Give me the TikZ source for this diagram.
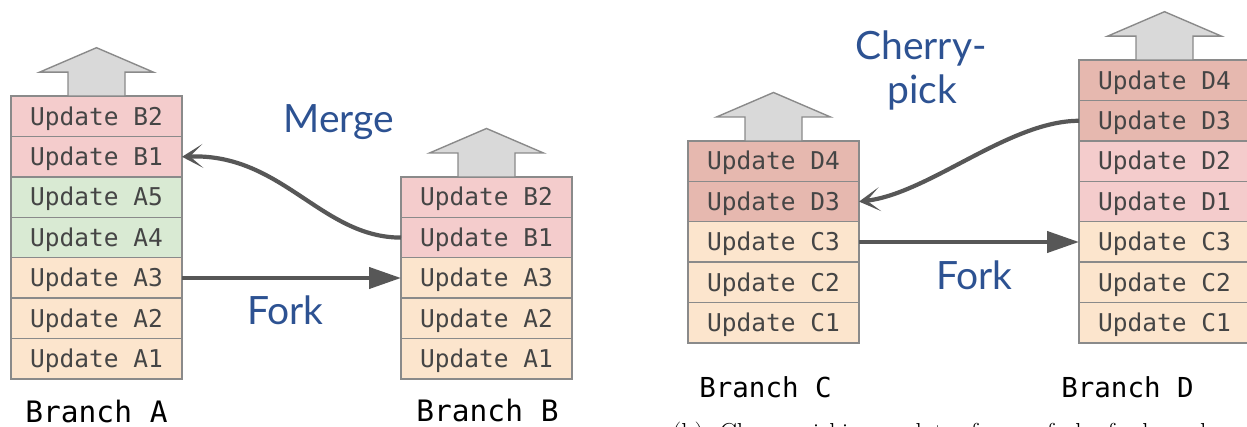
\documentclass[tikz,border=0pt]{standalone}
\usepackage{fontspec}
\setmonofont{DejaVu Sans Mono}
\newfontfamily\latofont{Lato}
\usetikzlibrary{arrows.meta,calc}

\definecolor{roworange}{HTML}{FCE5CD}
\definecolor{rowgreen}{HTML}{D9EAD3}
\definecolor{rowpink}{HTML}{F4CCCC}
\definecolor{rowred}{HTML}{E6B8AF}
\definecolor{rowborder}{HTML}{8A8A8A}
\definecolor{rowtext}{HTML}{454545}
\definecolor{flowgrey}{HTML}{575757}
\definecolor{headfill}{HTML}{D9D9D9}
\definecolor{labelblue}{HTML}{2D5292}

\tikzset{
  commit/.style={draw=rowborder, line width=1.4pt, rectangle, inner sep=0pt, outer sep=0pt,
    minimum width=171pt, minimum height=40.4pt, text height=17.9pt, text depth=0.5pt,
    text=rowtext, font=\ttfamily\fontsize{24.5}{28}\selectfont},
  branchname/.style={anchor=base, inner sep=0pt, text=black, font=\ttfamily\fontsize{#1}{#1}\selectfont},
  oplabel/.style={anchor=base, inner sep=0pt, text=labelblue, font=\latofont\fontsize{39}{44}\selectfont},
  flow/.style={draw=flowgrey, line width=4.2pt},
  forkhead/.style={-{Triangle[length=32pt,width=21pt]}, flowgrey},
  pickhead/.style={-{Stealth[length=21pt,width=24pt,inset=13pt]}, flowgrey},
  headarrow/.style={draw=rowborder, fill=headfill, line width=1.4pt, line join=miter}
}

% up-pointing block arrow sitting on the top commit of a branch
\newcommand\tiparrow[1]{%
  \draw[headarrow, shift={(#1.north)}] (-28.5,0) -- (-28.5,-24) -- (-57,-24) -- (0,-48.5)
    -- (57,-24) -- (28.5,-24) -- (28.5,0) -- cycle;}

\begin{document}
\begin{tikzpicture}[x=1pt,y=-1pt]
\useasboundingbox (0,0) rectangle (1247,427);
\clip (0,0) rectangle (1247,427);

% ---------- Branch A ----------
\node[commit, fill=rowpink]   (aB2) at (96.5,116.4) {Update B2};
\node[commit, fill=rowpink]   (aB1) at (96.5,156.8) {Update B1};
\node[commit, fill=rowgreen]  (aA5) at (96.5,197.2) {Update A5};
\node[commit, fill=rowgreen]  (aA4) at (96.5,237.6) {Update A4};
\node[commit, fill=roworange] (aA3) at (96.5,278.0) {Update A3};
\node[commit, fill=roworange] (aA2) at (96.5,318.4) {Update A2};
\node[commit, fill=roworange] (aA1) at (96.5,358.8) {Update A1};
\tiparrow{aB2}
\node[branchname=29.5] (brA) at (96.5,422.5) {Branch A};

% ---------- Branch B ----------
\node[commit, fill=rowpink]   (bB2) at (486.5,197.2) {Update B2};
\node[commit, fill=rowpink]   (bB1) at (486.5,237.6) {Update B1};
\node[commit, fill=roworange] (bA3) at (486.5,278.0) {Update A3};
\node[commit, fill=roworange] (bA2) at (486.5,318.4) {Update A2};
\node[commit, fill=roworange] (bA1) at (486.5,358.8) {Update A1};
\tiparrow{bB2}
\node[branchname=29.5] (brB) at (487.5,421.5) {Branch B};

% fork and merge between A and B
\draw[flow, forkhead] (aA3.east) -- (bA3.west);
\draw[flow, pickhead] (bB1.west) .. controls +(-80,0) and +(100,-4) .. (aB1.east);
\node[oplabel] (merge) at (339,133) {Merge};
\node[oplabel] (forkAB) at (285.5,325) {Fork};

% ---------- Branch C ----------
\node[commit, fill=rowred]    (cD4) at (773.5,161.2) {Update D4};
\node[commit, fill=rowred]    (cD3) at (773.5,201.6) {Update D3};
\node[commit, fill=roworange] (cC3) at (773.5,242.0) {Update C3};
\node[commit, fill=roworange] (cC2) at (773.5,282.4) {Update C2};
\node[commit, fill=roworange] (cC1) at (773.5,322.8) {Update C1};
\tiparrow{cD4}
\node[branchname=27.5] (brC) at (765.5,397) {Branch C};

% ---------- Branch D ----------
\node[commit, fill=rowred]    (dD4) at (1164.5,80.4)  {Update D4};
\node[commit, fill=rowred]    (dD3) at (1164.5,120.8) {Update D3};
\node[commit, fill=rowpink]   (dD2) at (1164.5,161.2) {Update D2};
\node[commit, fill=rowpink]   (dD1) at (1164.5,201.6) {Update D1};
\node[commit, fill=roworange] (dC3) at (1164.5,242.0) {Update C3};
\node[commit, fill=roworange] (dC2) at (1164.5,282.4) {Update C2};
\node[commit, fill=roworange] (dC1) at (1164.5,322.8) {Update C1};
\tiparrow{dD4}
\node[branchname=27.5] (brD) at (1127.5,397) {Branch D};

% fork and cherry-pick between C and D
\draw[flow, forkhead] (cC3.east) -- (dC3.west);
\draw[flow, pickhead] (dD3.west) .. controls +(-70,0) and +(70,-8) .. (cD3.east);
\node[oplabel] (cherry) at (921,59.3) {Cherry-};
\node[oplabel] (pick) at (922,103.3) {pick};
\node[oplabel] (forkCD) at (974.5,289.3) {Fork};

% caption running below the lower edge
\node[anchor=base west, inner sep=0pt, font=\fontsize{26}{30}\selectfont] (caption) at (672,441)
  {(b)\ \ Cherry-picking updates from a fork of a branch};
\end{tikzpicture}
\end{document}
